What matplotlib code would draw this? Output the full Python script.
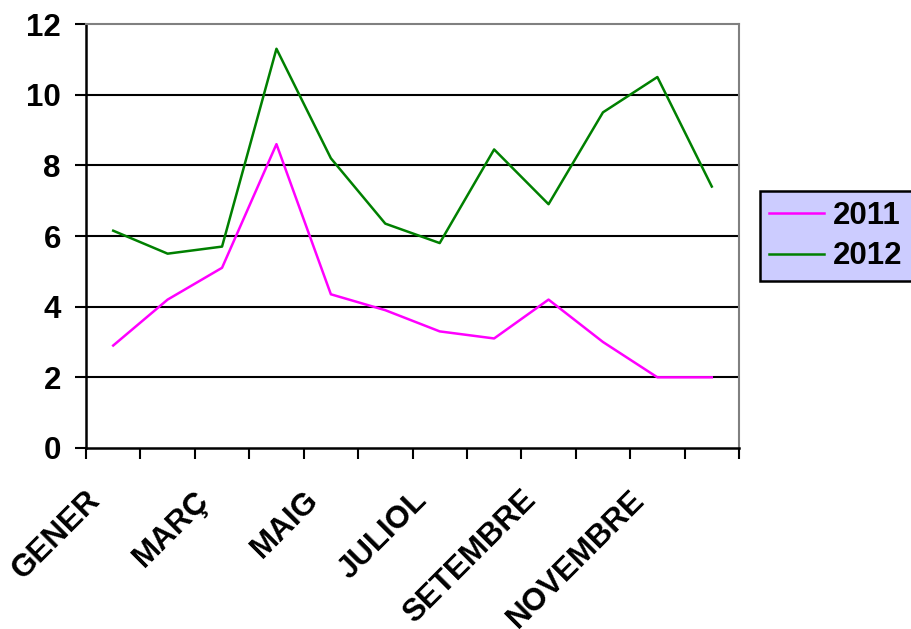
import matplotlib
matplotlib.use("Agg")
import matplotlib.pyplot as plt
from matplotlib.ticker import FixedLocator
import matplotlib.transforms as mtransforms

months = ["GENER", "FEBRER", "MARÇ", "ABRIL", "MAIG", "JUNY", "JULIOL",
          "AGOST", "SETEMBRE", "OCTUBRE", "NOVEMBRE", "DESEMBRE"]
values_2011 = [2.9, 4.2, 5.1, 8.6, 4.35, 3.9, 3.3, 3.1, 4.2, 3.0, 2.0, 2.0]
values_2012 = [6.15, 5.5, 5.7, 11.3, 8.2, 6.35, 5.8, 8.45, 6.9, 9.5, 10.5, 7.4]
series_names = ["2011", "2012"]
yticks = [0, 2, 4, 6, 8, 10, 12]

plt.rcParams['font.family'] = ['Liberation Sans', 'DejaVu Sans']
FS = 22.5

fig = plt.figure(figsize=(9.11, 6.29), dpi=100)
ax = fig.add_axes([0.0944, 0.2878, 0.7168, 0.674])

x = list(range(len(months)))
ax.plot(x, values_2011, color="#FF00FF", lw=1.8, label=series_names[0], zorder=3)
ax.plot(x, values_2012, color="#008000", lw=1.8, label=series_names[1], zorder=3)

ax.set_xlim(-0.5, len(months) - 0.5)
ax.set_ylim(0, 12)
ax.set_yticks(yticks)
ax.set_yticklabels([str(t) for t in yticks], fontsize=FS, fontweight='bold')
for t in yticks[1:-1]:
    ax.axhline(t, color='black', lw=1.5, zorder=1)

ax.xaxis.set_major_locator(FixedLocator([i - 0.5 for i in range(len(months) + 1)]))
ax.set_xticklabels([])
ax.tick_params(axis='x', direction='out', length=8, width=1.5, color='black')
ax.tick_params(axis='y', direction='out', length=8, width=1.5, color='black', pad=10)

ax.spines['left'].set_color('black')
ax.spines['left'].set_linewidth(1.8)
ax.spines['bottom'].set_color('black')
ax.spines['bottom'].set_linewidth(1.8)
ax.spines['top'].set_color('#808080')
ax.spines['top'].set_linewidth(1.5)
ax.spines['right'].set_color('#808080')
ax.spines['right'].set_linewidth(1.5)

# rotated month labels (every other month, as in the reference)
trans = mtransforms.blended_transform_factory(ax.transData, ax.transAxes)
for i in range(0, len(months), 2):
    ax.text(i - 0.12, -0.088, months[i], transform=trans,
            rotation=45, rotation_mode='default', ha='right', va='top',
            fontsize=FS, fontweight='bold', clip_on=False)

leg = fig.legend(loc='center left', bbox_to_anchor=(0.834, 0.6248),
                 borderaxespad=0,
                 prop={'size': FS, 'weight': 'bold'}, frameon=True,
                 fancybox=False, edgecolor='black', facecolor='#CCCCFF',
                 handlelength=1.75, borderpad=0.3, labelspacing=0.35,
                 handletextpad=0.3)
leg.get_frame().set_linewidth(1.8)
leg.get_frame().set_alpha(1)

fig.savefig("out.png", dpi=100)
